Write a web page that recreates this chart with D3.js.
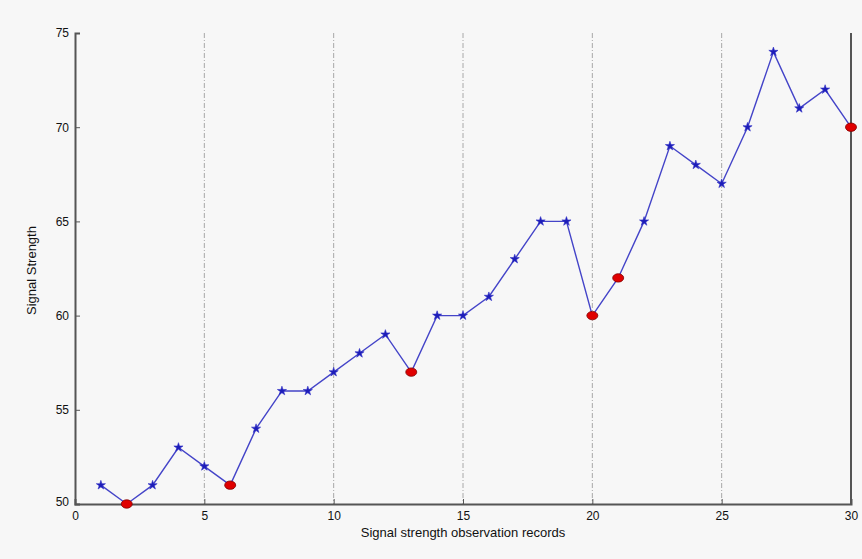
<!DOCTYPE html>
<html>
<head>
<meta charset="utf-8">
<script src="https://cdn.jsdelivr.net/npm/d3@7"></script>
<style>
  html, body { margin: 0; padding: 0; background: #f7f7f7; }
  svg { display: block; }
  text { font-family: "Liberation Sans", Arial, sans-serif; fill: #111; }
</style>
</head>
<body>
<script>
// Observation index and measured signal strength
const records = d3.range(1, 31);
const strength = [51, 50, 51, 53, 52, 51, 54, 56, 56, 57, 58, 59, 57, 60, 60,
                  61, 63, 65, 65, 60, 62, 65, 69, 68, 67, 70, 74, 71, 72, 70];
// Records flagged as local lows / anomalies (drawn in red)
const flagged = [2, 6, 13, 20, 21, 30];
const xTicks = [0, 5, 10, 15, 20, 25, 30];
const yTicks = [50, 55, 60, 65, 70, 75];
const gridX = [5, 10, 15, 20, 25];

const W = 862, H = 559;
const m = { left: 75, right: 11, top: 33, bottom: 55 };

const svg = d3.select("body").append("svg").attr("width", W).attr("height", H);

const x = d3.scaleLinear().domain([0, 30]).range([m.left, W - m.right]);
const y = d3.scaleLinear().domain([50, 75]).range([H - m.bottom, m.top]);

// vertical dash-dot grid
svg.append("g").selectAll("line").data(gridX).join("line")
  .attr("x1", d => x(d)).attr("x2", d => x(d))
  .attr("y1", y(75)).attr("y2", y(50))
  .attr("stroke", "#a8a8a8").attr("stroke-width", 1)
  .attr("stroke-dasharray", "5,2,1,2");

// axes (ticks pointing inward)
const gx = svg.append("g").attr("transform", `translate(0,${y(50)})`)
  .call(d3.axisBottom(x).tickValues(xTicks).tickSize(-5).tickPadding(7).tickFormat(d3.format("d")));
const gy = svg.append("g").attr("transform", `translate(${x(0)},0)`)
  .call(d3.axisLeft(y).tickValues(yTicks).tickSize(-5).tickPadding(6).tickFormat(d3.format("d")));
[gx, gy].forEach(g => {
  g.select(".domain").attr("stroke", "#555").attr("stroke-width", 2);
  g.selectAll(".tick line").attr("stroke", "#555");
  g.selectAll(".tick text").attr("font-size", 12).attr("fill", "#222");
});
gy.selectAll(".tick text").attr("dy", "0.32em");
gy.selectAll(".tick").filter(d => d === 50).select("text").attr("dy", "0.1em");

// right border
svg.append("line")
  .attr("x1", x(30)).attr("x2", x(30)).attr("y1", y(75)).attr("y2", y(50))
  .attr("stroke", "#555").attr("stroke-width", 2);

// series line
const pts = records.map((r, i) => ({ r, v: strength[i] }));
svg.append("path").datum(pts)
  .attr("fill", "none").attr("stroke", "#4444c8").attr("stroke-width", 1.4)
  .attr("d", d3.line().x(d => x(d.r)).y(d => y(d.v)));

// star markers for regular records
const star = d3.symbol().type(d3.symbolStar).size(26);
svg.append("g").selectAll("path")
  .data(pts.filter(d => !flagged.includes(d.r))).join("path")
  .attr("transform", d => `translate(${x(d.r)},${y(d.v)})`)
  .attr("d", star).attr("fill", "#1d1db8").attr("stroke", "#3030c8").attr("stroke-width", 0.6);

// red markers for flagged records
svg.append("g").selectAll("ellipse")
  .data(pts.filter(d => flagged.includes(d.r))).join("ellipse")
  .attr("cx", d => x(d.r)).attr("cy", d => y(d.v))
  .attr("rx", 5.5).attr("ry", 4.2)
  .attr("fill", "#e00000").attr("stroke", "#800000").attr("stroke-width", 0.8);

// axis titles
svg.append("text")
  .attr("x", (x(0) + x(30)) / 2).attr("y", 537)
  .attr("text-anchor", "middle").attr("font-size", 13)
  .text("Signal strength observation records");
svg.append("text")
  .attr("transform", `translate(36,${(y(50) + y(75)) / 2 + 2}) rotate(-90)`)
  .attr("text-anchor", "middle").attr("font-size", 13)
  .text("Signal Strength");
</script>
</body>
</html>
